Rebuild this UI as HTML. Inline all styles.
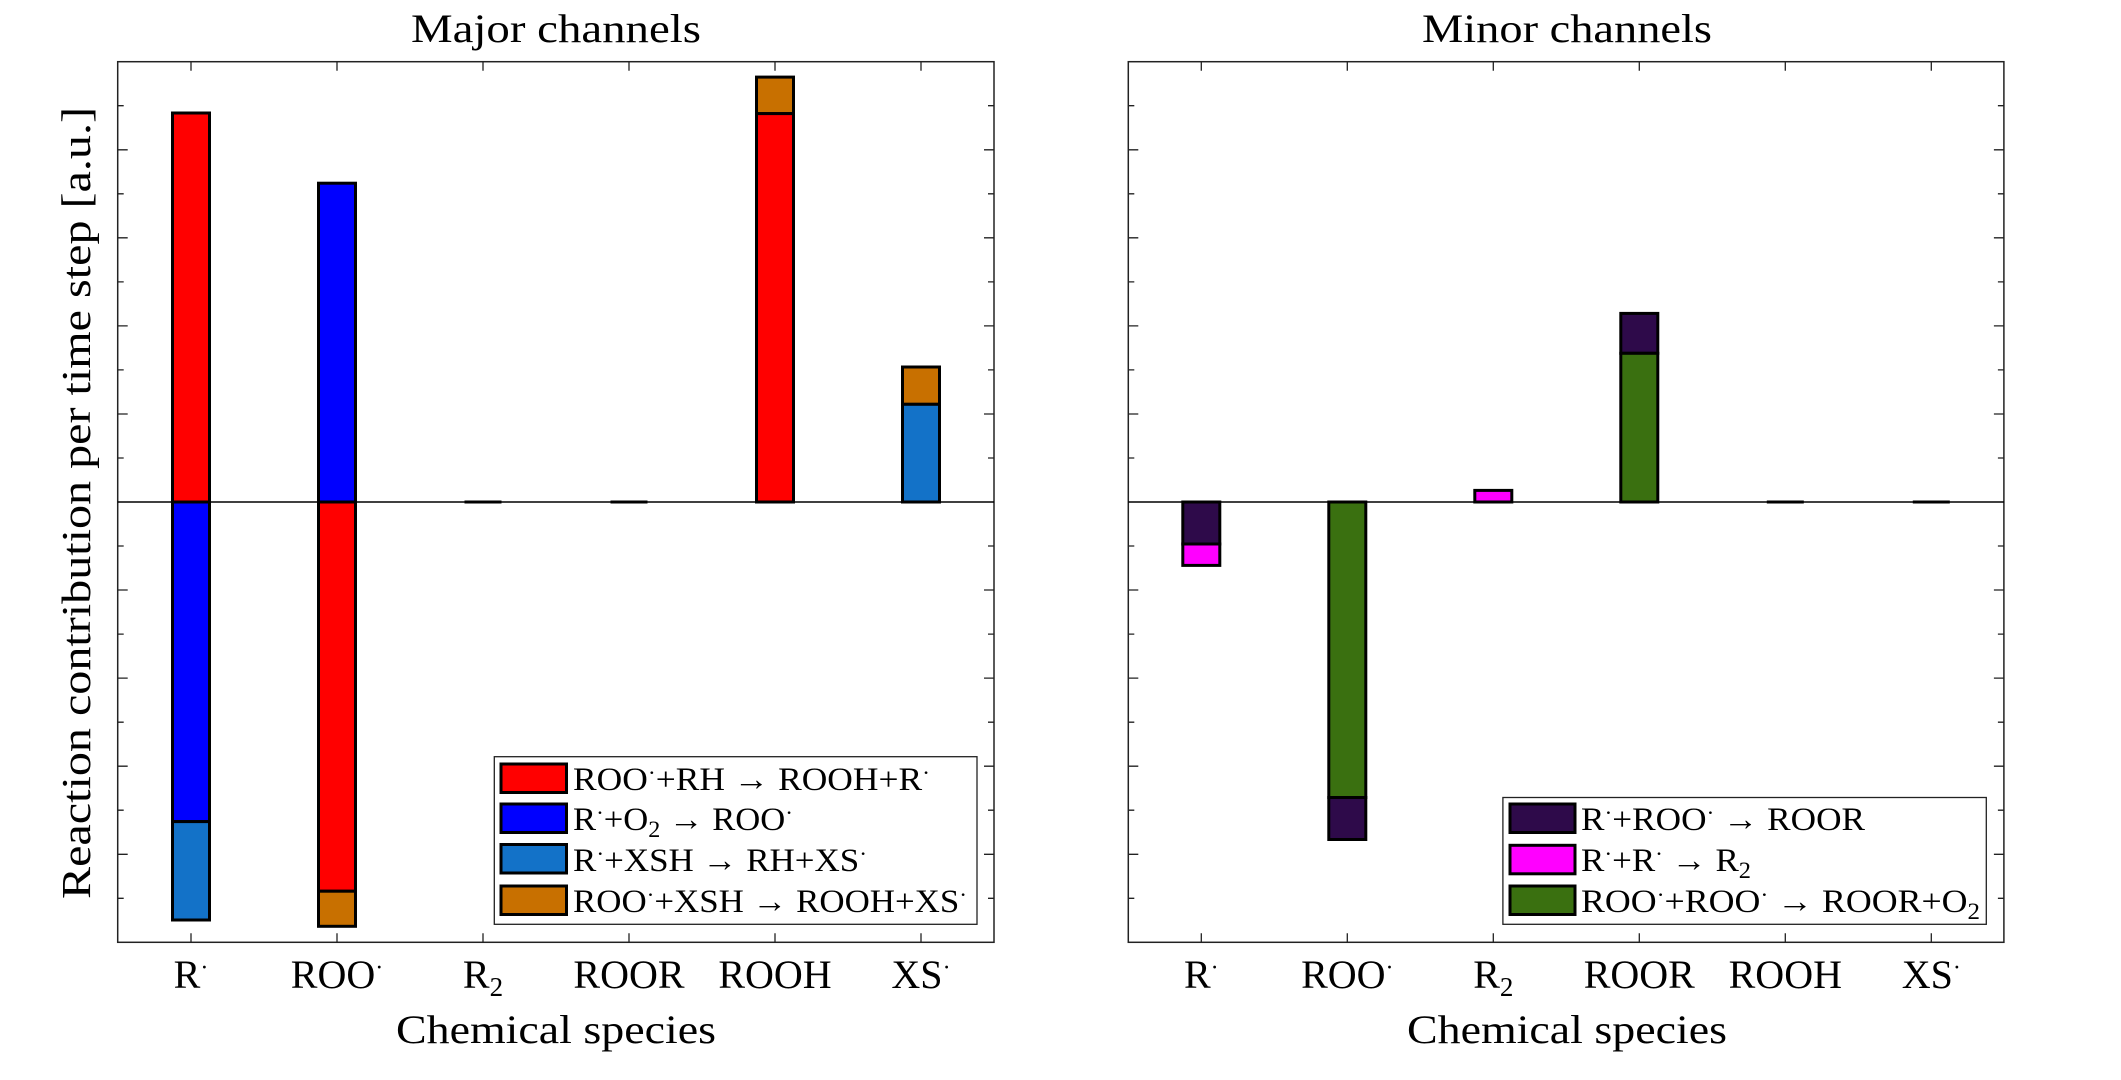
<!DOCTYPE html>
<html><head><meta charset="utf-8"><style>html,body{margin:0;padding:0;background:#fff;overflow:hidden}svg{display:block}text{font-family:"Liberation Serif","DejaVu Serif",serif;fill:#000}</style></head>
<body>
<svg width="2121" height="1080" viewBox="0 0 2121 1080" xmlns="http://www.w3.org/2000/svg">
<!-- LEFT PANEL -->
<g>
<text x="556" y="42" font-size="40" text-anchor="middle" textLength="290" lengthAdjust="spacingAndGlyphs">Major channels</text>
<rect x="117.7" y="61.7" width="876.3" height="880.6" fill="none" stroke="#222" stroke-width="1.5"/>
<line x1="117.7" y1="502" x2="994" y2="502" stroke="#000" stroke-width="1.5"/>
<g stroke="#222" stroke-width="1.3">
<path d="M117.7 105.7h6M117.7 149.8h10M117.7 193.8h6M117.7 237.8h10M117.7 281.9h6M117.7 325.9h10M117.7 369.9h6M117.7 414h10M117.7 458h6M117.7 546h6M117.7 590h10M117.7 634.1h6M117.7 678.1h10M117.7 722.2h6M117.7 766.2h10M117.7 810.2h6M117.7 854.3h10M117.7 898.3h6"/>
<path d="M994 105.7h-6M994 149.8h-10M994 193.8h-6M994 237.8h-10M994 281.9h-6M994 325.9h-10M994 369.9h-6M994 414h-10M994 458h-6M994 546h-6M994 590h-10M994 634.1h-6M994 678.1h-10M994 722.2h-6M994 766.2h-10M994 810.2h-6M994 854.3h-10M994 898.3h-6"/>
<path d="M191 61.7v9M337 61.7v9M483 61.7v9M629 61.7v9M775 61.7v9M921 61.7v9M191 942.3v-9M337 942.3v-9M483 942.3v-9M629 942.3v-9M775 942.3v-9M921 942.3v-9"/>
</g>
<g stroke="#000" stroke-width="3">
<rect x="172.5" y="113" width="37" height="389" fill="#ff0000"/>
<rect x="172.5" y="502" width="37" height="319.6" fill="#0000ff"/>
<rect x="172.5" y="821.6" width="37" height="98.4" fill="#1372c8"/>
<rect x="318.5" y="183.2" width="37" height="318.8" fill="#0000ff"/>
<rect x="318.5" y="502" width="37" height="389.2" fill="#ff0000"/>
<rect x="318.5" y="891.2" width="37" height="35.1" fill="#c87000"/>
<rect x="756.5" y="77.1" width="37" height="36.5" fill="#c87000"/>
<rect x="756.5" y="113.6" width="37" height="388.4" fill="#ff0000"/>
<rect x="902.5" y="367" width="37" height="37.3" fill="#c87000"/>
<rect x="902.5" y="404.3" width="37" height="97.7" fill="#1372c8"/>
<line x1="464.5" y1="502" x2="501.5" y2="502"/>
<line x1="610.5" y1="502" x2="647.5" y2="502"/>
</g>
<rect x="494.3" y="756.7" width="482.7" height="167.6" fill="#fff" stroke="#222" stroke-width="1.3"/>
<g stroke="#000" stroke-width="3">
<rect x="501" y="764" width="65.5" height="28.5" fill="#ff0000"/>
<rect x="501" y="804" width="65.5" height="28.5" fill="#0000ff"/>
<rect x="501" y="844.5" width="65.5" height="28.5" fill="#1372c8"/>
<rect x="501" y="886" width="65.5" height="28.5" fill="#c87000"/>
</g>
<g font-size="33">
<text x="573" y="790" textLength="357" lengthAdjust="spacingAndGlyphs">ROO<tspan dy="-10" font-size="22">·</tspan><tspan dy="10">+RH → ROOH+R</tspan><tspan dy="-10" font-size="22">·</tspan></text>
<text x="573" y="830" textLength="220" lengthAdjust="spacingAndGlyphs">R<tspan dy="-10" font-size="22">·</tspan><tspan dy="10">+O</tspan><tspan dy="7" font-size="23">2</tspan><tspan dy="-7"> → ROO</tspan><tspan dy="-10" font-size="22">·</tspan></text>
<text x="573" y="871" textLength="294" lengthAdjust="spacingAndGlyphs">R<tspan dy="-10" font-size="22">·</tspan><tspan dy="10">+XSH → RH+XS</tspan><tspan dy="-10" font-size="22">·</tspan></text>
<text x="573" y="912" textLength="394" lengthAdjust="spacingAndGlyphs">ROO<tspan dy="-10" font-size="22">·</tspan><tspan dy="10">+XSH → ROOH+XS</tspan><tspan dy="-10" font-size="22">·</tspan></text>
</g>
<g font-size="40" text-anchor="middle">
<text x="191" y="988">R<tspan dy="-13" font-size="24">·</tspan></text>
<text x="337" y="988">ROO<tspan dy="-13" font-size="24">·</tspan></text>
<text x="483" y="988">R<tspan dy="8" font-size="27">2</tspan></text>
<text x="629" y="988">ROOR</text>
<text x="775" y="988">ROOH</text>
<text x="921" y="988">XS<tspan dy="-13" font-size="24">·</tspan></text>
</g>
<text x="556" y="1043" font-size="40" text-anchor="middle" textLength="320" lengthAdjust="spacingAndGlyphs">Chemical species</text>
<text transform="translate(90,503) rotate(-90)" font-size="41" text-anchor="middle" textLength="792" lengthAdjust="spacingAndGlyphs">Reaction contribution per time step [a.u.]</text>
</g>
<!-- RIGHT PANEL -->
<g>
<text x="1567" y="42" font-size="40" text-anchor="middle" textLength="290" lengthAdjust="spacingAndGlyphs">Minor channels</text>
<rect x="1128.3" y="61.7" width="875.6" height="880.6" fill="none" stroke="#222" stroke-width="1.5"/>
<line x1="1128.3" y1="502" x2="2003.9" y2="502" stroke="#000" stroke-width="1.5"/>
<g stroke="#222" stroke-width="1.3">
<path d="M1128.3 105.7h6M1128.3 149.8h10M1128.3 193.8h6M1128.3 237.8h10M1128.3 281.9h6M1128.3 325.9h10M1128.3 369.9h6M1128.3 414h10M1128.3 458h6M1128.3 546h6M1128.3 590h10M1128.3 634.1h6M1128.3 678.1h10M1128.3 722.2h6M1128.3 766.2h10M1128.3 810.2h6M1128.3 854.3h10M1128.3 898.3h6"/>
<path d="M2003.9 105.7h-6M2003.9 149.8h-10M2003.9 193.8h-6M2003.9 237.8h-10M2003.9 281.9h-6M2003.9 325.9h-10M2003.9 369.9h-6M2003.9 414h-10M2003.9 458h-6M2003.9 546h-6M2003.9 590h-10M2003.9 634.1h-6M2003.9 678.1h-10M2003.9 722.2h-6M2003.9 766.2h-10M2003.9 810.2h-6M2003.9 854.3h-10M2003.9 898.3h-6"/>
<path d="M1201.3 61.7v9M1347.3 61.7v9M1493.3 61.7v9M1639.3 61.7v9M1785.3 61.7v9M1931.3 61.7v9M1201.3 942.3v-9M1347.3 942.3v-9M1493.3 942.3v-9M1639.3 942.3v-9M1785.3 942.3v-9M1931.3 942.3v-9"/>
</g>
<g stroke="#000" stroke-width="3">
<rect x="1182.8" y="502" width="37" height="42" fill="#2e0a4a"/>
<rect x="1182.8" y="544" width="37" height="21.4" fill="#ff00ff"/>
<rect x="1328.8" y="502" width="37" height="295.5" fill="#3a7010"/>
<rect x="1328.8" y="797.5" width="37" height="42" fill="#2e0a4a"/>
<rect x="1474.8" y="490.4" width="37" height="11.6" fill="#ff00ff"/>
<rect x="1620.8" y="313.4" width="37" height="39.9" fill="#2e0a4a"/>
<rect x="1620.8" y="353.3" width="37" height="148.7" fill="#3a7010"/>
<line x1="1766.8" y1="502" x2="1803.8" y2="502"/>
<line x1="1912.8" y1="502" x2="1949.8" y2="502"/>
</g>
<rect x="1502.9" y="797.5" width="483.4" height="126.8" fill="#fff" stroke="#222" stroke-width="1.3"/>
<g stroke="#000" stroke-width="3">
<rect x="1510" y="804" width="65" height="28.5" fill="#2e0a4a"/>
<rect x="1510" y="845.3" width="65" height="28.5" fill="#ff00ff"/>
<rect x="1510" y="886" width="65" height="28.5" fill="#3a7010"/>
</g>
<g font-size="33">
<text x="1581" y="830" textLength="284" lengthAdjust="spacingAndGlyphs">R<tspan dy="-10" font-size="22">·</tspan><tspan dy="10">+ROO</tspan><tspan dy="-10" font-size="22">·</tspan><tspan dy="10"> → ROOR</tspan></text>
<text x="1581" y="871" textLength="170" lengthAdjust="spacingAndGlyphs">R<tspan dy="-10" font-size="22">·</tspan><tspan dy="10">+R</tspan><tspan dy="-10" font-size="22">·</tspan><tspan dy="10"> → R</tspan><tspan dy="7" font-size="23">2</tspan></text>
<text x="1581" y="912" textLength="399" lengthAdjust="spacingAndGlyphs">ROO<tspan dy="-10" font-size="22">·</tspan><tspan dy="10">+ROO</tspan><tspan dy="-10" font-size="22">·</tspan><tspan dy="10"> → ROOR+O</tspan><tspan dy="7" font-size="23">2</tspan></text>
</g>
<g font-size="40" text-anchor="middle">
<text x="1201.3" y="988">R<tspan dy="-13" font-size="24">·</tspan></text>
<text x="1347.3" y="988">ROO<tspan dy="-13" font-size="24">·</tspan></text>
<text x="1493.3" y="988">R<tspan dy="8" font-size="27">2</tspan></text>
<text x="1639.3" y="988">ROOR</text>
<text x="1785.3" y="988">ROOH</text>
<text x="1931.3" y="988">XS<tspan dy="-13" font-size="24">·</tspan></text>
</g>
<text x="1567" y="1043" font-size="40" text-anchor="middle" textLength="320" lengthAdjust="spacingAndGlyphs">Chemical species</text>
</g>
</svg>
</body></html>
